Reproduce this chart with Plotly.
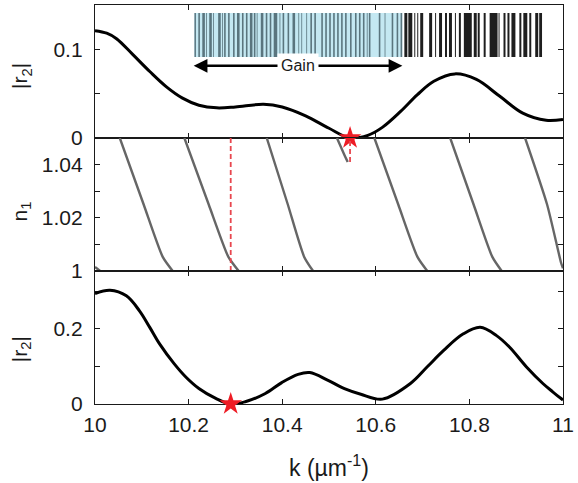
import plotly.graph_objects as go

# ---------------- data ----------------
# |r2| versus k, upper panel
k_top = [10.0, 10.025, 10.046, 10.081, 10.117, 10.152, 10.187, 10.222, 10.26, 10.30,
         10.36, 10.40, 10.45, 10.50, 10.545, 10.583, 10.614, 10.653, 10.689, 10.724,
         10.769, 10.815, 10.865, 10.914, 10.964, 11.0]
r_top = [0.121, 0.1182, 0.112, 0.094, 0.075, 0.058, 0.045, 0.037, 0.034, 0.035,
         0.038, 0.035, 0.025, 0.011, 0.0, 0.003, 0.012, 0.030, 0.049, 0.064,
         0.0723, 0.066, 0.047, 0.028, 0.020, 0.021]

# |r2| versus k, lower panel
k_bot = [10.0, 10.032, 10.067, 10.095, 10.117, 10.138, 10.169, 10.194, 10.222, 10.258,
         10.29, 10.321, 10.364, 10.399, 10.434, 10.459, 10.498, 10.533, 10.568, 10.614,
         10.674, 10.710, 10.745, 10.787, 10.823, 10.858, 10.886, 10.922, 10.957, 10.978, 11.0]
r_bot = [0.294, 0.303, 0.288, 0.248, 0.204, 0.160, 0.1075, 0.072, 0.0414, 0.015,
         0.0, 0.006, 0.028, 0.057, 0.079, 0.0837, 0.063, 0.041, 0.026, 0.013,
         0.0546, 0.099, 0.1427, 0.1868, 0.204, 0.182, 0.151, 0.0986, 0.0546, 0.0325, 0.0106]

# n1 branches (middle panel)
n1_branches_k = [
    [10.0, 10.011],
    [10.053, 10.104, 10.1447, 10.166],
    [10.191, 10.243, 10.285, 10.307],
    [10.367, 10.412, 10.447, 10.466],
    [10.517, 10.532, 10.540],
    [10.597, 10.648, 10.689, 10.710],
    [10.759, 10.809, 10.849, 10.869],
    [10.919, 10.966, 10.996, 11.0],
]
n1_branches_n = [
    [1.0015, 1.0],
    [1.05, 1.025, 1.0053, 1.0],
    [1.05, 1.025, 1.0053, 1.0],
    [1.05, 1.025, 1.0053, 1.0],
    [1.05, 1.044, 1.041],
    [1.05, 1.025, 1.0053, 1.0],
    [1.05, 1.025, 1.0053, 1.0],
    [1.05, 1.025, 1.003, 1.001],
]

# marked zeros of |r2|
k_star_top, n1_star_top = 10.545, 1.041
k_star_bot = 10.29

# layer structure: (start, end) positions of the high-index layers
gain_end = 210
gain_layers = [(0.2, 1.8), (4.2, 5.8), (8.2, 10.8), (12.1, 12.9), (15.2, 17.8), (19.1, 19.9),
               (24.2, 26.8), (28.1, 28.9), (30.2, 31.8), (34.2, 35.8), (39.2, 40.8),
               (43.2, 45.8), (48.2, 49.8), (52.2, 53.8), (56.2, 58.8), (60.2, 61.8),
               (63.1, 63.9), (67.2, 69.8), (72.2, 73.8), (76.2, 77.8), (80.2, 83.8),
               (86.1, 86.9), (89.2, 90.8), (94.2, 95.8), (99.2, 101.8), (105.1, 105.9),
               (108.1, 108.9), (113.1, 113.9), (117.2, 118.8), (121.2, 122.8),
               (128.2, 129.8), (132.2, 133.8), (136.2, 137.8), (140.2, 141.8),
               (144.2, 145.8), (148.2, 149.8), (152.2, 153.8), (157.2, 158.8),
               (162.2, 163.8), (166.2, 167.8), (170.2, 171.8), (174.1, 174.9),
               (176.2, 177.8), (186.2, 187.8), (192.1, 192.9), (199.2, 200.8),
               (204.2, 205.8), (208.2, 209.8)]
passive_layers = [(212, 215), (216, 220), (222, 223), (225, 226), (228, 231), (237, 240),
                  (243, 244), (247, 250), (253, 255), (257, 260), (263, 264), (267, 269),
                  (272, 280), (282, 285), (286, 288), (292, 294), (298, 306), (307, 308),
                  (312, 314), (316, 318), (320, 324), (328, 330), (332, 336), (338, 340),
                  (344, 347), (348, 351)]
device_length = 351

x_ticks = [10, 10.2, 10.4, 10.6, 10.8, 11]
x_tick_text = ["10", "10.2", "10.4", "10.6", "10.8", "11"]

# ---------------- figure ----------------
FONT = "Liberation Sans, Arial, Helvetica, sans-serif"
INK = "#1a1a1a"
RED = "#ee1c25"
RED_DASH = "#e8474f"

fig = go.Figure()

fig.add_trace(go.Scatter(x=k_top, y=r_top, mode="lines",
                         line=dict(color="black", width=3, shape="spline", smoothing=1),
                         xaxis="x", yaxis="y", hoverinfo="skip"))

for ks, ns in zip(n1_branches_k, n1_branches_n):
    fig.add_trace(go.Scatter(x=ks, y=ns, mode="lines",
                             line=dict(color="#666666", width=2.4, shape="spline", smoothing=0.6),
                             xaxis="x2", yaxis="y2", hoverinfo="skip"))

fig.add_trace(go.Scatter(x=[k_star_bot, k_star_bot], y=[1.0, 1.05], mode="lines",
                         line=dict(color=RED_DASH, width=1.8, dash="5px,3px"),
                         xaxis="x2", yaxis="y2", hoverinfo="skip"))
fig.add_trace(go.Scatter(x=[k_star_top, k_star_top], y=[n1_star_top, 1.05], mode="lines",
                         line=dict(color=RED_DASH, width=1.8, dash="5px,3px"),
                         xaxis="x2", yaxis="y2", hoverinfo="skip"))

fig.add_trace(go.Scatter(x=k_bot, y=r_bot, mode="lines",
                         line=dict(color="black", width=3, shape="spline", smoothing=1),
                         xaxis="x3", yaxis="y3", hoverinfo="skip"))

fig.add_trace(go.Scatter(x=[k_star_top], y=[0], mode="markers", cliponaxis=False,
                         marker=dict(symbol="star", size=17, color=RED, line=dict(width=0)),
                         xaxis="x", yaxis="y", hoverinfo="skip"))
fig.add_trace(go.Scatter(x=[k_star_bot], y=[0], mode="markers", cliponaxis=False,
                         marker=dict(symbol="star", size=17, color=RED, line=dict(width=0)),
                         xaxis="x3", yaxis="y3", hoverinfo="skip"))

# inset: layered structure (drawn on its own hidden axes)
fig.add_trace(go.Scatter(x=[0, device_length], y=[0, 1], mode="markers",
                         marker=dict(size=0.1, opacity=0), xaxis="x4", yaxis="y4",
                         hoverinfo="skip"))
fig.add_shape(type="rect", xref="x4", yref="y4", x0=0, x1=gain_end, y0=0, y1=1,
              fillcolor="#c4e8f2", line=dict(width=0), layer="above")
for a, b in gain_layers:
    fig.add_shape(type="rect", xref="x4", yref="y4", x0=a, x1=b, y0=0, y1=1,
                  fillcolor="#5a757e", line=dict(width=0), layer="above")
for a, b in passive_layers:
    fig.add_shape(type="rect", xref="x4", yref="y4", x0=a, x1=b, y0=0, y1=1,
                  fillcolor="#1e1e1e", line=dict(width=0), layer="above")

arrow_y = -0.205
fig.add_annotation(x=gain_end, y=arrow_y, ax=-2, ay=arrow_y, xref="x4", yref="y4",
                   axref="x4", ayref="y4", text="", showarrow=True, arrowhead=2,
                   arrowside="end+start", arrowwidth=2.5, arrowsize=1.1, arrowcolor="black")
fig.add_annotation(x=105, y=arrow_y, xref="x4", yref="y4", text="Gain", showarrow=False,
                   font=dict(family=FONT, size=16, color=INK), bgcolor="white", borderpad=3)

# axis titles
title_font = dict(family=FONT, size=21, color=INK)
for ypos, label in [(0.8225, "|r<sub>2</sub>|"), (0.4825, "n<sub>1</sub>"),
                    (0.1375, "|r<sub>2</sub>|")]:
    fig.add_annotation(x=-0.158, y=ypos, xref="paper", yref="paper", text=label,
                       textangle=-90, showarrow=False, xanchor="center", yanchor="middle",
                       font=title_font)
fig.add_annotation(x=0.5, y=-0.155, xref="paper", yref="paper",
                   text="k (µm<sup>-1</sup>)", showarrow=False,
                   xanchor="center", yanchor="middle",
                   font=dict(family=FONT, size=23, color=INK))

axis_common = dict(showline=True, linecolor=INK, linewidth=1.4, mirror="allticks",
                   ticks="inside", ticklen=5, tickwidth=1.3, tickcolor=INK,
                   showgrid=False, zeroline=False, layer="below traces",
                   tickfont=dict(family=FONT, size=21, color=INK))

xcommon = dict(axis_common, range=[10, 11], tickvals=x_ticks, ticktext=x_tick_text)

fig.update_layout(
    width=578, height=483,
    margin=dict(l=95, r=11, t=4, b=79),
    paper_bgcolor="white", plot_bgcolor="white",
    showlegend=False,
    xaxis=dict(xcommon, domain=[0, 1], anchor="y", showticklabels=False),
    yaxis=dict(axis_common, domain=[2 / 3, 1], anchor="x", range=[0, 0.15],
               tickvals=[0, 0.05, 0.1], ticktext=["0", "", "0.1"], ticklabelstandoff=7),
    xaxis2=dict(xcommon, domain=[0, 1], anchor="y2", showticklabels=False, matches="x"),
    yaxis2=dict(axis_common, domain=[1 / 3, 2 / 3], anchor="x2", range=[1, 1.05],
                tickvals=[1, 1.01, 1.02, 1.03, 1.04, 1.05],
                ticktext=["1", "", "1.02", "", "1.04", ""], ticklabelstandoff=7),
    xaxis3=dict(xcommon, domain=[0, 1], anchor="y3", matches="x", ticklabelstandoff=2),
    yaxis3=dict(axis_common, domain=[0, 1 / 3], anchor="x3", range=[0, 0.354],
                tickvals=[0, 0.1, 0.2, 0.3], ticktext=["0", "", "0.2", ""],
                ticklabelstandoff=7),
    xaxis4=dict(domain=[0.2119, 0.9555], anchor="y4", range=[0, device_length],
                visible=False, fixedrange=True),
    yaxis4=dict(domain=[0.835, 0.98], anchor="x4", range=[-0.318, 1],
                visible=False, fixedrange=True),
)

fig.write_html("out.html")
